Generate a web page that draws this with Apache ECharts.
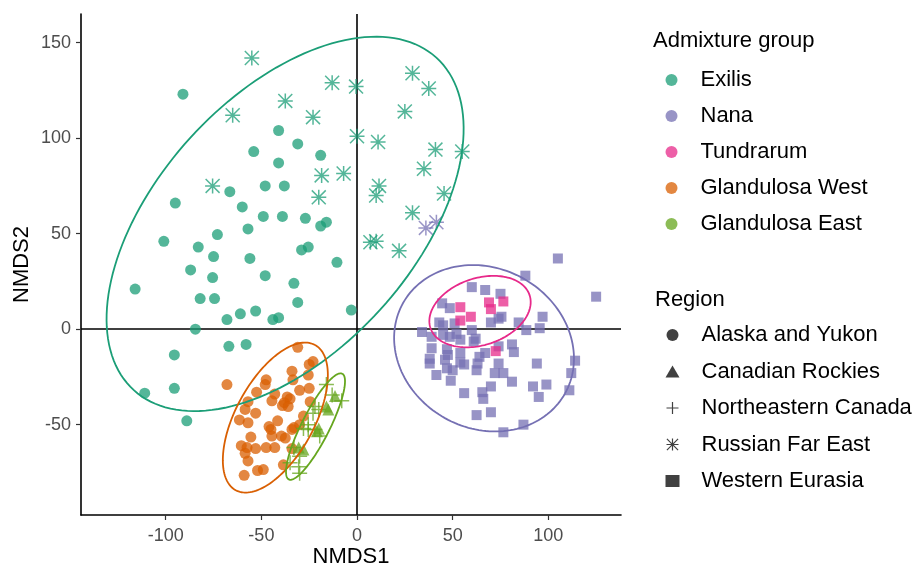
<!DOCTYPE html>
<html>
<head>
<meta charset="utf-8">
<script src="https://cdn.jsdelivr.net/npm/echarts@6/dist/echarts.min.js"></script>
<style>
  html, body { margin: 0; padding: 0; background: #fff; }
  #main { width: 921px; height: 566px; }
</style>
</head>
<body>
<div id="main"></div>
<script>
// NMDS scores
var exilisAlaska = [
    [-91, 123], [-41, 104], [-31, 97], [-54, 93], [-41, 87], [-19, 91], [-48, 75], [-38, 75],
    [-66.5, 72], [-95, 66], [-60, 64], [-49, 59], [-39, 59], [-27, 58], [-19, 54], [-16, 56],
    [-73, 49.5], [-57, 52.5], [-101, 46], [-83, 43], [-75, 38], [-29, 41.5], [-25.5, 43], [-56, 37],
    [-10.5, 35], [-87, 31], [-75.5, 27], [-48, 28], [-33, 24], [-116, 21], [-82, 16], [-74.5, 16],
    [-31, 14], [-3, 10], [-68, 5], [-61, 8], [-53, 9.5], [-44, 5], [-41, 6], [-84.5, 0],
    [-67, -9], [-58, -8], [-95.5, -13.5], [-95.5, -31], [-111, -33.5], [-89, -48]
];
var exilisRussia = [
    [-55, 142], [-13, 129], [-0.5, 127], [-37.5, 119.5], [-65, 112], [-23, 111], [0, 101],
    [-18.5, 80.5], [-7, 81.5], [-75.5, 75], [29, 134], [37.5, 126], [25, 114], [11, 98],
    [41, 94], [55, 93], [35, 84], [11.5, 75], [10, 70], [-20, 69], [45.5, 71], [29, 61],
    [7, 45.5], [10, 46], [22, 41]
];
var nanaRussia = [[36, 53], [41.5, 56]];
var nanaEurasia = [
    [105, 37], [125, 17], [88, 28], [60, 22], [67, 20.5], [75, 18.5], [44.5, 13.5], [48.5, 11],
    [74, 5.5], [70, 3.5], [75.5, 6.5], [97, 6.5], [84.5, 3.5], [43, 3.5], [45, 2], [51, 3],
    [95.5, 0.5], [88.5, -0.5], [34, -1.5], [60, -0.5], [39, -4], [45, -3], [52, -2.5], [48.5, -4],
    [62, -5], [61, -6.5], [54, -5.5], [74, -9], [81, -8], [82, -12], [39, -10], [47, -10.5],
    [47.5, -13.5], [67, -12.5], [64, -14.5], [54, -12.5], [38, -15.5], [38, -18], [46, -16],
    [54, -17.5], [56, -18.5], [63, -18], [74, -18], [94, -18], [114, -16.5], [47, -20.5],
    [50, -21.5], [62.5, -21.5], [72, -23], [76.5, -23], [112, -23], [41.5, -24], [49, -27],
    [81, -27.5], [92, -30], [99, -29], [70, -30], [65.5, -33], [111, -32], [56, -33.5],
    [66, -36.5], [95, -35.5], [62.5, -45], [70, -43.5], [87, -50], [76.5, -54]
];
var tundrarumEurasia = [
    [54, 11.5], [59.5, 6.5], [54, 4.5], [69, 14], [70, 10.5], [76.5, 14.5], [72.5, -11.5]
];
var glandWestAlaska = [
    [-31, -9.5], [-68, -29], [-25, -18.5], [-23, -17], [-34, -22], [-47.5, -26.5], [-48, -29],
    [-33.5, -26.5], [-25, -31], [-30, -32], [-52.5, -33], [-43, -34], [-36.5, -35.5],
    [-44.5, -37.5], [-38, -38.5], [-35, -36.5], [-57, -38], [-24.5, -38], [-39, -40],
    [-36, -40.5], [-58.5, -42], [-53, -44], [-28, -45.5], [-61.5, -47.5], [-57, -49],
    [-41.5, -48], [-46, -51], [-45, -52.5], [-33, -51.5], [-34, -52.5], [-30, -50],
    [-44.5, -56], [-55.5, -56.5], [-39.5, -56], [-37.5, -57], [-60.5, -61], [-57.5, -62],
    [-53, -62.5], [-47.5, -62], [-43, -62], [-58.5, -65], [-34, -62.5], [-57, -69],
    [-38.5, -71], [-52, -74], [-49, -73.5], [-59, -76.5], [-25.5, -24]
];
var glandEastRockies = [
    [-11.5, -35], [-16, -40.5], [-15, -42], [-20, -52], [-21, -53.5], [-30.5, -62], [-28, -63]
];
var glandEastNortheast = [
    [-16, -29], [-13, -34.5], [-8, -37.5], [-22, -40.5], [-20, -42], [-23, -44], [-25.5, -50],
    [-28, -52], [-25.5, -52.5], [-22, -52.5], [-19.5, -56], [-33, -62], [-30, -66.5],
    [-35, -70], [-30.5, -72], [-30, -75.5]
];

// confidence ellipses: group, centre, semi-axes, rotation (degrees)
var ellipseGroups = ['Exilis', 'Nana', 'Tundrarum', 'Glandulosa West', 'Glandulosa East'];
var ellipseCx = [-37.6, 66.4, 64.3, -42.7, -21.7];
var ellipseCy = [55.1, -10, 9.2, -46.3, -51];
var ellipseA = [117.6, 48.5, 27.3, 43.3, 31];
var ellipseB = [67, 41.9, 17.5, 20.5, 7.3];
var ellipseAngle = [47.75, -29.2, 18.4, 61.4, 63.2];

var groupNames = ['Exilis', 'Nana', 'Tundrarum', 'Glandulosa West', 'Glandulosa East'];
var regionNames = ['Alaska and Yukon', 'Canadian Rockies', 'Northeastern Canada', 'Russian Far East', 'Western Eurasia'];
var xTicks = [-100, -50, 0, 50, 100];
var yTicks = [-50, 0, 50, 100, 150];

var groupColors = {
    'Exilis': '#1B9E77',
    'Nana': '#7570B3',
    'Tundrarum': '#E7298A',
    'Glandulosa West': '#D95F02',
    'Glandulosa East': '#66A61E'
};
var plusPath = 'path://M9 0L11 0L11 9L20 9L20 11L11 11L11 20L9 20L9 11L0 11L0 9L9 9Z';
var starPath = 'path://M0 9L20 9L20 11L0 11Z M9 0L11 0L11 20L9 20Z ' +
    'M0 1.4L1.4 0L20 18.6L18.6 20Z M18.6 0L20 1.4L1.4 20L0 18.6Z';
var regionIcons = {
    'Alaska and Yukon': 'circle',
    'Canadian Rockies': 'triangle',
    'Northeastern Canada': plusPath,
    'Russian Far East': starPath,
    'Western Eurasia': 'rect'
};
var regionSizes = {
    'Alaska and Yukon': 11,
    'Canadian Rockies': 12,
    'Northeastern Canada': 15,
    'Russian Far East': 15,
    'Western Eurasia': 10
};

var myChart = echarts.init(document.getElementById('main'));

function pointSeries(group, region, data) {
    return {
        name: group,
        type: 'scatter',
        data: data,
        symbol: regionIcons[region],
        symbolSize: regionSizes[region],
        itemStyle: {color: groupColors[group], opacity: 0.75},
        z: 2,
        silent: true
    };
}

var ellipseData = [];
for (var i = 0; i < ellipseGroups.length; i++) {
    ellipseData.push([ellipseCx[i], ellipseCy[i], ellipseA[i], ellipseB[i], ellipseAngle[i]]);
}

var series = [
    pointSeries('Exilis', 'Alaska and Yukon', exilisAlaska),
    pointSeries('Exilis', 'Russian Far East', exilisRussia),
    pointSeries('Nana', 'Russian Far East', nanaRussia),
    pointSeries('Nana', 'Western Eurasia', nanaEurasia),
    pointSeries('Tundrarum', 'Western Eurasia', tundrarumEurasia),
    pointSeries('Glandulosa West', 'Alaska and Yukon', glandWestAlaska),
    pointSeries('Glandulosa East', 'Canadian Rockies', glandEastRockies),
    pointSeries('Glandulosa East', 'Northeastern Canada', glandEastNortheast),
    {
        name: 'ellipses',
        type: 'custom',
        data: ellipseData,
        encode: {x: 0, y: 1},
        z: 3,
        silent: true,
        renderItem: function (params, api) {
            var cx = api.value(0), cy = api.value(1);
            var a = api.value(2), b = api.value(3);
            var ang = api.value(4) * Math.PI / 180;
            var pts = [];
            for (var k = 0; k <= 160; k++) {
                var t = k / 160 * 2 * Math.PI;
                var ex = a * Math.cos(t), ey = b * Math.sin(t);
                pts.push(api.coord([
                    cx + ex * Math.cos(ang) - ey * Math.sin(ang),
                    cy + ex * Math.sin(ang) + ey * Math.cos(ang)
                ]));
            }
            return {
                type: 'polyline',
                shape: {points: pts},
                style: {stroke: groupColors[ellipseGroups[params.dataIndex]], fill: null, lineWidth: 1.8}
            };
        },
        markLine: {
            silent: true,
            symbol: ['none', 'none'],
            label: {show: false},
            z: 1,
            lineStyle: {color: '#000', width: 1.6, type: 'solid'},
            data: [{xAxis: 0}, {yAxis: 0}]
        }
    }
];

// dummy series so the Region legend gets its own entries
regionNames.forEach(function (r) {
    series.push({
        name: r,
        type: 'scatter',
        data: [],
        symbol: regionIcons[r],
        itemStyle: {color: '#000', opacity: 0.75}
    });
});

option = {
    animation: false,
    textStyle: {fontFamily: 'Liberation Sans, Arial, sans-serif'},
    title: [
        {text: 'Admixture group', left: 653, top: 30, padding: 0,
            textStyle: {fontSize: 22, fontWeight: 'normal', color: '#000'}},
        {text: 'Region', left: 655, top: 289, padding: 0,
            textStyle: {fontSize: 22, fontWeight: 'normal', color: '#000'}}
    ],
    legend: [
        {
            orient: 'vertical', left: 665.5, top: 69, padding: 0,
            itemWidth: 14, itemHeight: 12, itemGap: 14,
            selectedMode: false,
            textStyle: {fontSize: 22, color: '#000', padding: [0, 0, 0, 17]},
            data: groupNames.map(function (g) { return {name: g, icon: 'circle'}; })
        },
        {
            orient: 'vertical', left: 665.5, top: 324, padding: 0,
            itemWidth: 14, itemHeight: 12, itemGap: 14.5,
            selectedMode: false,
            textStyle: {fontSize: 22, color: '#000', padding: [0, 0, 0, 17]},
            data: regionNames.map(function (r) { return {name: r, icon: regionIcons[r]}; })
        }
    ],
    grid: {left: 81, right: 300, top: 14, bottom: 51, containLabel: false, outerBoundsMode: 'none'},
    xAxis: {
        type: 'value',
        min: -144.3,
        max: 138,
        name: 'NMDS1',
        nameLocation: 'middle',
        nameGap: 31,
        nameMoveOverlap: false,
        nameTextStyle: {fontSize: 22, color: '#000'},
        splitLine: {show: false},
        axisLine: {onZero: false, lineStyle: {color: '#000', width: 1.6}},
        axisTick: {customValues: xTicks, length: 5, lineStyle: {color: '#333', width: 1.2}},
        axisLabel: {customValues: xTicks, fontSize: 18, color: '#4D4D4D', margin: 12}
    },
    yAxis: {
        type: 'value',
        min: -97.3,
        max: 165,
        name: 'NMDS2',
        nameLocation: 'middle',
        nameGap: 48,
        nameMoveOverlap: false,
        nameRotate: 90,
        nameTextStyle: {fontSize: 22, color: '#000'},
        splitLine: {show: false},
        axisLine: {onZero: false, lineStyle: {color: '#000', width: 1.6}},
        axisTick: {customValues: yTicks, length: 5, lineStyle: {color: '#333', width: 1.2}},
        axisLabel: {customValues: yTicks, fontSize: 18, color: '#4D4D4D', margin: 10}
    },
    series: series
};
myChart.setOption(option);
</script>
</body>
</html>
